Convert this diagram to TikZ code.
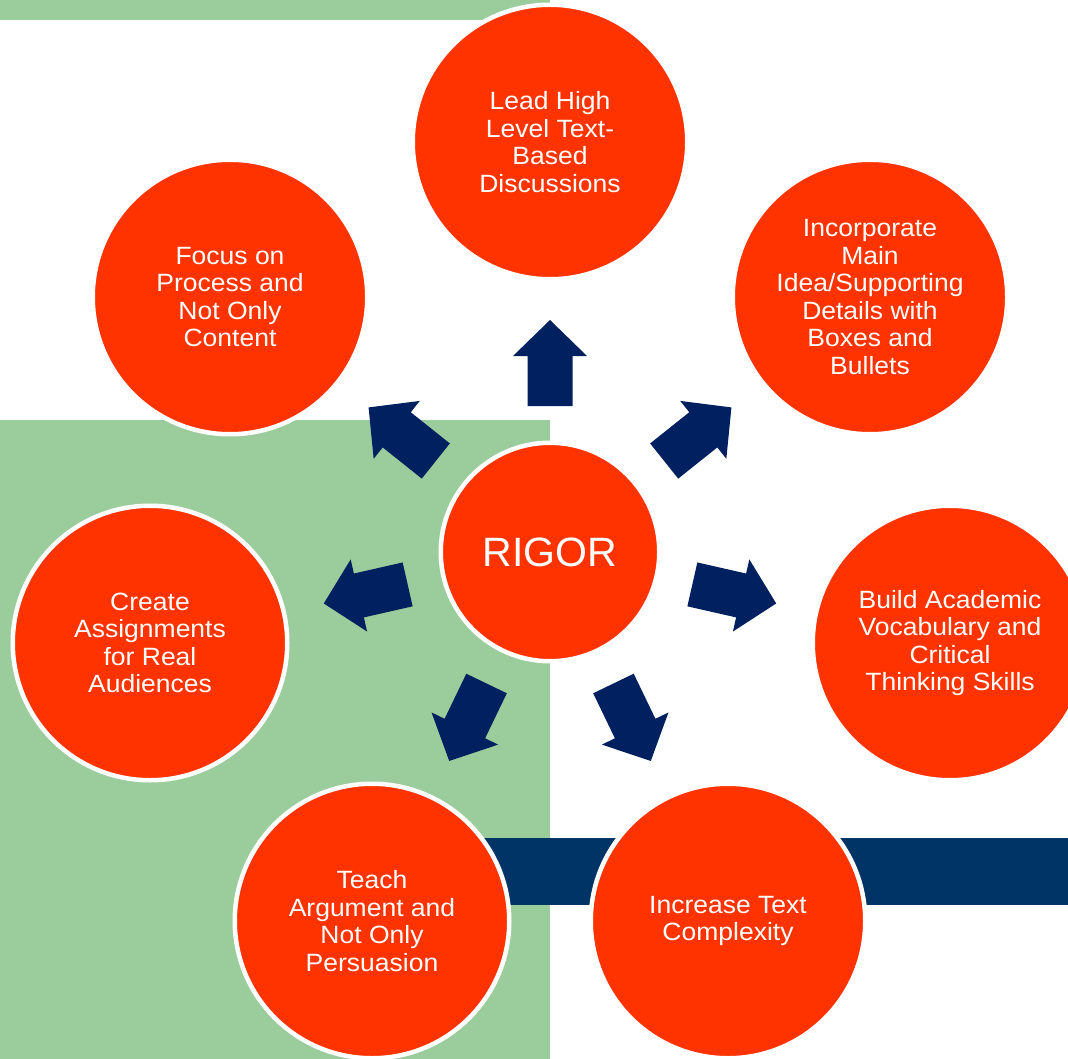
\documentclass[tikz,border=0pt]{standalone}
\usepackage{fontspec}
\setmainfont{Liberation Sans}[FakeStretch=1.06]
\newfontfamily\plainsans{Liberation Sans}
\usetikzlibrary{calc}
\definecolor{bubblered}{HTML}{FF3300}
\definecolor{bggreen}{HTML}{9BCC9B}
\definecolor{arrowblue}{HTML}{002060}
\definecolor{barblue}{HTML}{003366}
\tikzset{
  bubble/.style={circle, fill=bubblered, draw=white, line width=4.5pt,
    minimum size=274.5pt, inner sep=0pt, align=center, text=white,
    font=\fontsize{25}{27.5}\selectfont},
  hub/.style={circle, fill=bubblered, draw=white, line width=4.5pt,
    minimum size=218.5pt, inner sep=0pt, text=white,
    font=\plainsans\fontsize{41}{45}\selectfont},
  blockarrow/.pic={\fill[arrowblue] (146,-22.5) -- (196,-22.5) -- (196,-37) -- (232,0)
      -- (196,37) -- (196,22.5) -- (146,22.5) -- cycle;}
}
\begin{document}
\begin{tikzpicture}[x=1pt,y=-1pt]
\useasboundingbox (0,0) rectangle (1068,1059);
\clip (0,0) rectangle (1068,1059);
\fill[white] (0,0) rectangle (1068,1059);
% background panels
\fill[bggreen] (0,0) rectangle (550,20);
\fill[bggreen] (0,420) rectangle (550,1059);
\fill[barblue] (450,838) rectangle (1068,905);
% nodes
\node[hub] (c) at (550,552) {RIGOR};
\node[bubble] (n1) at (550,142) {Lead High\\Level Text-\\Based\\Discussions};
\node[bubble] (n2) at (870,297) {Incorporate\\Main\\Idea/Supporting\\Details with\\Boxes and\\Bullets};
\node[bubble] (n3) at (950,643) {Build Academic\\Vocabulary and\\Critical\\Thinking Skills};
\node[bubble] (n4) at (728,921) {Increase Text\\Complexity};
\node[bubble] (n5) at (372,921) {Teach\\Argument and\\Not Only\\Persuasion};
\node[bubble] (n6) at (150,643) {Create\\Assignments\\for Real\\Audiences};
\node[bubble] (n7) at (230,297) {Focus on\\Process and\\Not Only\\Content};
% block arrows from the hub toward each bubble
\foreach \t in {n1,n2,n3,n4,n5,n6,n7}{
  \path let \p1=($(\t.center)-(c.center)$), \n1={atan2(\y1,\x1)} in
    (c.center) pic[rotate=\n1] {blockarrow};
}
\end{tikzpicture}
\end{document}
